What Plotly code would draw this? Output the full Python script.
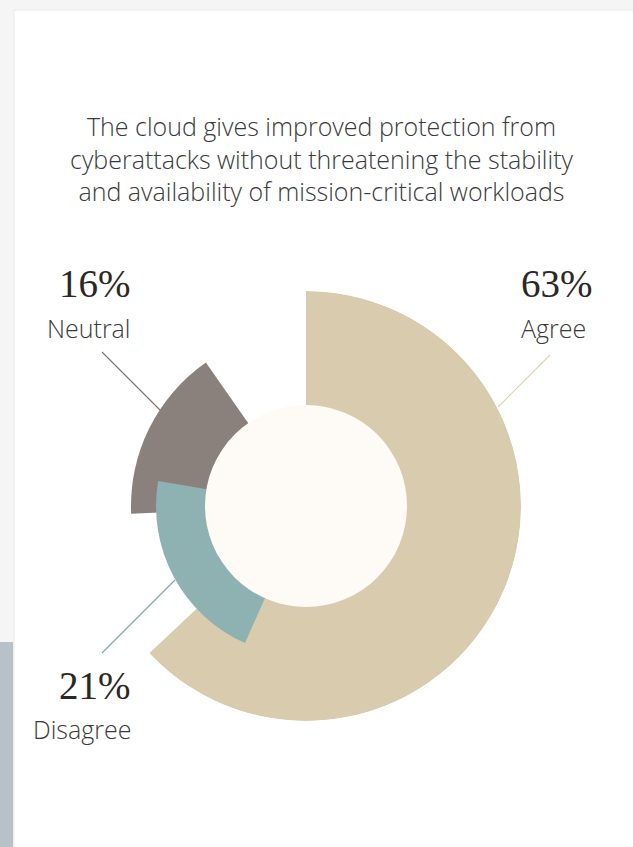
import plotly.graph_objects as go

# Survey responses
categories = ["Agree", "Disagree", "Neutral"]
values = [63, 21, 16]
value_labels = ["63%", "21%", "16%"]

# Styling for each sector: where it starts (degrees clockwise from 12 o'clock),
# how far out it reaches (in pixel-like radial units) and its fill colour
start_angles = [0.0, 204.0, 267.5]
outer_radius = [215, 150, 175]
colors = ["#d8cbae", "#8eb1b1", "#8a817c"]
line_colors = ["#e0d3aa", "#7aa8a8", "#7b726e"]

W, H = 633, 847
CX, CY = 306, 506          # donut centre in pixels
R_MAX = 215                # largest sector radius
HOLE_R = 101               # inner hole radius
HOLE_COLOR = "#fefaf6"


def px(x):
    return x / W


def py(y):
    return 1 - y / H


fig = go.Figure()

# Draw order: Agree, Neutral, Disagree (Disagree sits on top of its neighbours)
for i in [0, 2, 1]:
    width = values[i] * 3.6
    fig.add_trace(go.Barpolar(
        r=[outer_radius[i]],
        theta=[start_angles[i] + width / 2],
        width=[width],
        marker=dict(color=colors[i], line=dict(width=0)),
        name=categories[i],
        hoverinfo="name",
        showlegend=False,
    ))

# Centre hole
fig.add_trace(go.Barpolar(
    r=[HOLE_R], theta=[180], width=[360],
    marker=dict(color=HOLE_COLOR, line=dict(width=0)),
    hoverinfo="skip", showlegend=False,
))

fig.update_layout(
    width=W, height=H,
    margin=dict(l=0, r=0, t=0, b=0),
    paper_bgcolor="#f5f5f5",
    plot_bgcolor="rgba(0,0,0,0)",
    polar=dict(
        domain=dict(x=[px(CX - R_MAX), px(CX + R_MAX)],
                    y=[py(CY + R_MAX), py(CY - R_MAX)]),
        bgcolor="rgba(0,0,0,0)",
        barmode="overlay",
        bargap=0,
        radialaxis=dict(range=[0, R_MAX], visible=False, showgrid=False),
        angularaxis=dict(rotation=90, direction="clockwise", visible=False,
                         showgrid=False),
    ),
)

shapes = []
# White card
shapes.append(dict(type="rect", xref="paper", yref="paper",
                   x0=px(14), x1=px(W + 2), y0=py(H + 2), y1=py(10),
                   fillcolor="#ffffff", line=dict(color="#e9e9e9", width=1),
                   layer="below"))
# Strip of grey-blue along the lower left edge
shapes.append(dict(type="rect", xref="paper", yref="paper",
                   x0=0, x1=px(13), y0=0, y1=py(642),
                   fillcolor="#b8c0c8", line=dict(width=0), layer="below"))

# Leader lines (pixel endpoints)
leaders = {
    "Agree": ((550, 355), (498, 407)),
    "Disagree": ((102, 653), (175, 580)),
    "Neutral": ((102, 352), (160, 410)),
}
for i, cat in enumerate(categories):
    (x0, y0), (x1, y1) = leaders[cat]
    shapes.append(dict(type="line", xref="paper", yref="paper",
                       x0=px(x0), y0=py(y0), x1=px(x1), y1=py(y1),
                       line=dict(color=line_colors[i], width=1.1)))
fig.update_layout(shapes=shapes)

SERIF = "Liberation Serif, Georgia, serif"
SANS = "Open Sans, Lato, sans-serif"
TEXT = "#2b2724"
LABEL = "#3a3a3a"

annotations = [
    dict(text="The cloud gives improved protection from<br>"
              "cyberattacks without threatening the stability<br>"
              "and availability of mission-critical workloads",
         x=px(322), y=py(159), xanchor="center", yanchor="middle",
         font=dict(family=SANS, size=25, color=LABEL, weight=300),
         showarrow=False, align="center"),
]

# Value and category labels: (x, anchor, y of value, y of category)
label_pos = {
    "Agree": (519, "left", 284, 328),
    "Disagree": (133, "right", 685, 729),
    "Neutral": (133, "right", 284, 328),
}
for i, cat in enumerate(categories):
    x, anchor, yv, yc = label_pos[cat]
    annotations.append(dict(text=value_labels[i], x=px(x), y=py(yv),
                            xanchor=anchor, yanchor="middle", showarrow=False,
                            font=dict(family=SERIF, size=39, color=TEXT)))
    annotations.append(dict(text=cat, x=px(x), y=py(yc),
                            xanchor=anchor, yanchor="middle", showarrow=False,
                            font=dict(family=SANS, size=25, color=LABEL,
                                      weight=300)))
fig.update_layout(annotations=annotations)

fig.write_html("out.html")
